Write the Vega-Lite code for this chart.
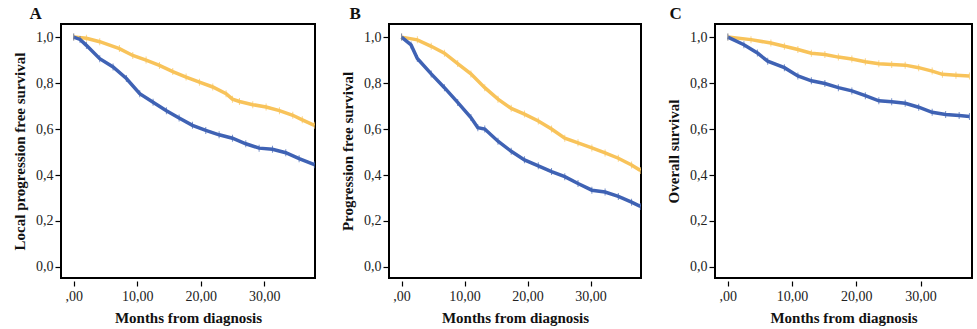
{
  "$schema": "https://vega.github.io/schema/vega-lite/v6.json",
  "background": "white",
  "padding": {"left": 11, "top": 4, "right": 5, "bottom": 5},
  "config": {
    "font": "Liberation Serif",
    "view": {"stroke": "black", "strokeWidth": 2},
    "axis": {"grid": false, "domain": false, "tickColor": "black", "tickSize": 5, "tickWidth": 1.2, "labelFontSize": 14, "labelColor": "#222", "titleFontSize": 15, "titleFontWeight": "bold", "titleColor": "#111", "labelFont": "Liberation Serif", "titleFont": "Liberation Serif"},
    "title": {"font": "Liberation Serif", "fontSize": 17, "fontWeight": "bold", "anchor": "start", "frame": "bounds", "color": "#111"}
  },
  "datasets": {
    "km": [
      {"panel": "A", "group": "yellow", "month": 0, "surv": 1.0},
      {"panel": "A", "group": "yellow", "month": 2, "surv": 0.995},
      {"panel": "A", "group": "yellow", "month": 4.1, "surv": 0.98},
      {"panel": "A", "group": "yellow", "month": 7.2, "surv": 0.95},
      {"panel": "A", "group": "yellow", "month": 9.3, "surv": 0.92},
      {"panel": "A", "group": "yellow", "month": 11.4, "surv": 0.9},
      {"panel": "A", "group": "yellow", "month": 13.5, "surv": 0.877},
      {"panel": "A", "group": "yellow", "month": 15.6, "surv": 0.85},
      {"panel": "A", "group": "yellow", "month": 17.7, "surv": 0.826},
      {"panel": "A", "group": "yellow", "month": 19.8, "surv": 0.804},
      {"panel": "A", "group": "yellow", "month": 21.9, "surv": 0.783},
      {"panel": "A", "group": "yellow", "month": 24.0, "surv": 0.754},
      {"panel": "A", "group": "yellow", "month": 25.0, "surv": 0.73},
      {"panel": "A", "group": "yellow", "month": 26.1, "surv": 0.72},
      {"panel": "A", "group": "yellow", "month": 28.2, "surv": 0.706},
      {"panel": "A", "group": "yellow", "month": 30.3, "surv": 0.696},
      {"panel": "A", "group": "yellow", "month": 32.4, "surv": 0.68},
      {"panel": "A", "group": "yellow", "month": 34.5, "surv": 0.66},
      {"panel": "A", "group": "yellow", "month": 36.0, "surv": 0.64},
      {"panel": "A", "group": "yellow", "month": 37.9, "surv": 0.616},
      {"panel": "A", "group": "blue", "month": 0, "surv": 1.0},
      {"panel": "A", "group": "blue", "month": 1, "surv": 0.99},
      {"panel": "A", "group": "blue", "month": 2.0, "surv": 0.964},
      {"panel": "A", "group": "blue", "month": 4.1, "surv": 0.906},
      {"panel": "A", "group": "blue", "month": 6.2, "surv": 0.87},
      {"panel": "A", "group": "blue", "month": 8.3, "surv": 0.82},
      {"panel": "A", "group": "blue", "month": 10.4, "surv": 0.754},
      {"panel": "A", "group": "blue", "month": 12.5, "surv": 0.717},
      {"panel": "A", "group": "blue", "month": 14.6, "surv": 0.68},
      {"panel": "A", "group": "blue", "month": 16.6, "surv": 0.648},
      {"panel": "A", "group": "blue", "month": 18.7, "surv": 0.616},
      {"panel": "A", "group": "blue", "month": 20.8, "surv": 0.594},
      {"panel": "A", "group": "blue", "month": 22.9, "surv": 0.575},
      {"panel": "A", "group": "blue", "month": 25.0, "surv": 0.56},
      {"panel": "A", "group": "blue", "month": 27.1, "surv": 0.536},
      {"panel": "A", "group": "blue", "month": 29.2, "surv": 0.517},
      {"panel": "A", "group": "blue", "month": 31.3, "surv": 0.512},
      {"panel": "A", "group": "blue", "month": 33.4, "surv": 0.497},
      {"panel": "A", "group": "blue", "month": 35.5, "surv": 0.471},
      {"panel": "A", "group": "blue", "month": 37.9, "surv": 0.445},
      {"panel": "B", "group": "yellow", "month": 0, "surv": 1.0},
      {"panel": "B", "group": "yellow", "month": 2.5, "surv": 0.988},
      {"panel": "B", "group": "yellow", "month": 4.7, "surv": 0.96},
      {"panel": "B", "group": "yellow", "month": 6.8, "surv": 0.93},
      {"panel": "B", "group": "yellow", "month": 8.9, "surv": 0.885},
      {"panel": "B", "group": "yellow", "month": 11.0, "surv": 0.84},
      {"panel": "B", "group": "yellow", "month": 13.2, "surv": 0.78},
      {"panel": "B", "group": "yellow", "month": 15.3, "surv": 0.73},
      {"panel": "B", "group": "yellow", "month": 17.4, "surv": 0.69},
      {"panel": "B", "group": "yellow", "month": 19.5, "surv": 0.665},
      {"panel": "B", "group": "yellow", "month": 21.7, "surv": 0.635},
      {"panel": "B", "group": "yellow", "month": 23.8, "surv": 0.6},
      {"panel": "B", "group": "yellow", "month": 25.9, "surv": 0.56},
      {"panel": "B", "group": "yellow", "month": 28.0, "surv": 0.54},
      {"panel": "B", "group": "yellow", "month": 30.2, "surv": 0.518},
      {"panel": "B", "group": "yellow", "month": 32.3, "surv": 0.496},
      {"panel": "B", "group": "yellow", "month": 34.4, "surv": 0.473},
      {"panel": "B", "group": "yellow", "month": 36.5, "surv": 0.444},
      {"panel": "B", "group": "yellow", "month": 37.9, "surv": 0.42},
      {"panel": "B", "group": "blue", "month": 0, "surv": 1.0},
      {"panel": "B", "group": "blue", "month": 1.5, "surv": 0.966},
      {"panel": "B", "group": "blue", "month": 2.5, "surv": 0.907},
      {"panel": "B", "group": "blue", "month": 4.7, "surv": 0.84},
      {"panel": "B", "group": "blue", "month": 6.8, "surv": 0.78},
      {"panel": "B", "group": "blue", "month": 8.9, "surv": 0.716},
      {"panel": "B", "group": "blue", "month": 11.0, "surv": 0.65},
      {"panel": "B", "group": "blue", "month": 12.1, "surv": 0.606},
      {"panel": "B", "group": "blue", "month": 13.2, "surv": 0.6},
      {"panel": "B", "group": "blue", "month": 15.3, "surv": 0.547},
      {"panel": "B", "group": "blue", "month": 17.4, "surv": 0.503},
      {"panel": "B", "group": "blue", "month": 19.5, "surv": 0.466},
      {"panel": "B", "group": "blue", "month": 21.7, "surv": 0.44},
      {"panel": "B", "group": "blue", "month": 23.8, "surv": 0.415},
      {"panel": "B", "group": "blue", "month": 25.9, "surv": 0.393},
      {"panel": "B", "group": "blue", "month": 28.0, "surv": 0.363},
      {"panel": "B", "group": "blue", "month": 30.2, "surv": 0.334},
      {"panel": "B", "group": "blue", "month": 32.3, "surv": 0.326},
      {"panel": "B", "group": "blue", "month": 34.4, "surv": 0.307},
      {"panel": "B", "group": "blue", "month": 36.5, "surv": 0.282},
      {"panel": "B", "group": "blue", "month": 37.9, "surv": 0.263},
      {"panel": "C", "group": "yellow", "month": 0, "surv": 1.0},
      {"panel": "C", "group": "yellow", "month": 3.6, "surv": 0.989},
      {"panel": "C", "group": "yellow", "month": 6.7, "surv": 0.974},
      {"panel": "C", "group": "yellow", "month": 8.8, "surv": 0.96},
      {"panel": "C", "group": "yellow", "month": 10.9, "surv": 0.946},
      {"panel": "C", "group": "yellow", "month": 13.0, "surv": 0.93},
      {"panel": "C", "group": "yellow", "month": 15.1, "surv": 0.924},
      {"panel": "C", "group": "yellow", "month": 17.2, "surv": 0.913},
      {"panel": "C", "group": "yellow", "month": 19.3, "surv": 0.905},
      {"panel": "C", "group": "yellow", "month": 21.4, "surv": 0.893},
      {"panel": "C", "group": "yellow", "month": 23.5, "surv": 0.884},
      {"panel": "C", "group": "yellow", "month": 25.5, "surv": 0.881},
      {"panel": "C", "group": "yellow", "month": 27.6, "surv": 0.878},
      {"panel": "C", "group": "yellow", "month": 29.7, "surv": 0.867},
      {"panel": "C", "group": "yellow", "month": 31.8, "surv": 0.852},
      {"panel": "C", "group": "yellow", "month": 33.4, "surv": 0.838},
      {"panel": "C", "group": "yellow", "month": 35.5, "surv": 0.834},
      {"panel": "C", "group": "yellow", "month": 37.6, "surv": 0.831},
      {"panel": "C", "group": "blue", "month": 0, "surv": 1.0},
      {"panel": "C", "group": "blue", "month": 2.5, "surv": 0.967},
      {"panel": "C", "group": "blue", "month": 4.6, "surv": 0.931},
      {"panel": "C", "group": "blue", "month": 6.2, "surv": 0.895},
      {"panel": "C", "group": "blue", "month": 8.8, "surv": 0.867},
      {"panel": "C", "group": "blue", "month": 10.9, "surv": 0.831},
      {"panel": "C", "group": "blue", "month": 13.0, "surv": 0.81},
      {"panel": "C", "group": "blue", "month": 15.1, "surv": 0.798},
      {"panel": "C", "group": "blue", "month": 17.2, "surv": 0.78},
      {"panel": "C", "group": "blue", "month": 19.3, "surv": 0.766},
      {"panel": "C", "group": "blue", "month": 21.4, "surv": 0.745},
      {"panel": "C", "group": "blue", "month": 23.5, "surv": 0.723},
      {"panel": "C", "group": "blue", "month": 25.5, "surv": 0.719},
      {"panel": "C", "group": "blue", "month": 27.6, "surv": 0.712},
      {"panel": "C", "group": "blue", "month": 29.7, "surv": 0.695},
      {"panel": "C", "group": "blue", "month": 31.8, "surv": 0.673},
      {"panel": "C", "group": "blue", "month": 33.9, "surv": 0.663},
      {"panel": "C", "group": "blue", "month": 36.0, "surv": 0.659},
      {"panel": "C", "group": "blue", "month": 37.6, "surv": 0.655}
    ]
  },
  "spacing": 23,
  "hconcat": [
    {
      "width": 254, "height": 254,
      "title": {"text": "A", "dx": 17, "offset": 1},
      "data": {"name": "km"},
      "transform": [{"filter": "datum.panel == 'A'"}],
      "encoding": {
        "x": {"field": "month", "type": "quantitative", "scale": {"domain": [-2, 38], "nice": false, "zero": false}, "axis": {"title": "Months from diagnosis", "values": [0, 10, 20, 30], "offset": 3, "labelExpr": "datum.value == 0 ? ',00' : datum.value + ',00'", "labelPadding": 3, "titlePadding": 7}},
        "y": {"field": "surv", "type": "quantitative", "scale": {"domain": [-0.048, 1.057], "nice": false, "zero": false}, "axis": {"title": "Local progression free survival", "values": [0, 0.2, 0.4, 0.6, 0.8, 1.0], "offset": 1, "labelExpr": "replace(format(datum.value, '.1f'), '.', ',')", "labelPadding": 2, "titlePadding": 8}},
        "color": {"field": "group", "type": "nominal", "scale": {"domain": ["yellow", "blue"], "range": ["#f8c35a", "#3f62b4"]}, "legend": null}
      },
      "layer": [
        {"mark": {"type": "line", "strokeWidth": 3.5, "clip": true}},
        {"mark": {"type": "tick", "orient": "vertical", "size": 7, "thickness": 1, "clip": true}}
      ]
    },
    {
      "width": 252, "height": 254,
      "title": {"text": "B", "dx": 9, "offset": 1},
      "data": {"name": "km"},
      "transform": [{"filter": "datum.panel == 'B'"}],
      "encoding": {
        "x": {"field": "month", "type": "quantitative", "scale": {"domain": [-2, 38], "nice": false, "zero": false}, "axis": {"title": "Months from diagnosis", "values": [0, 10, 20, 30], "offset": 3, "labelExpr": "datum.value == 0 ? ',00' : datum.value + ',00'", "labelPadding": 3, "titlePadding": 7}},
        "y": {"field": "surv", "type": "quantitative", "scale": {"domain": [-0.048, 1.057], "nice": false, "zero": false}, "axis": {"title": "Progression free survival", "values": [0, 0.2, 0.4, 0.6, 0.8, 1.0], "offset": 1, "labelExpr": "replace(format(datum.value, '.1f'), '.', ',')", "labelPadding": 2, "titlePadding": 8}},
        "color": {"field": "group", "type": "nominal", "scale": {"domain": ["yellow", "blue"], "range": ["#f8c35a", "#3f62b4"]}, "legend": null}
      },
      "layer": [
        {"mark": {"type": "line", "strokeWidth": 3.5, "clip": true}},
        {"mark": {"type": "tick", "orient": "vertical", "size": 7, "thickness": 1, "clip": true}}
      ]
    },
    {
      "width": 257, "height": 254,
      "title": {"text": "C", "dx": 3, "offset": 1},
      "data": {"name": "km"},
      "transform": [{"filter": "datum.panel == 'C'"}],
      "encoding": {
        "x": {"field": "month", "type": "quantitative", "scale": {"domain": [-2, 38], "nice": false, "zero": false}, "axis": {"title": "Months from diagnosis", "values": [0, 10, 20, 30], "offset": 3, "labelExpr": "datum.value == 0 ? ',00' : datum.value + ',00'", "labelPadding": 3, "titlePadding": 7}},
        "y": {"field": "surv", "type": "quantitative", "scale": {"domain": [-0.048, 1.057], "nice": false, "zero": false}, "axis": {"title": "Overall survival", "values": [0, 0.2, 0.4, 0.6, 0.8, 1.0], "offset": 1, "labelExpr": "replace(format(datum.value, '.1f'), '.', ',')", "labelPadding": 2, "titlePadding": 8}},
        "color": {"field": "group", "type": "nominal", "scale": {"domain": ["yellow", "blue"], "range": ["#f8c35a", "#3f62b4"]}, "legend": null}
      },
      "layer": [
        {"mark": {"type": "line", "strokeWidth": 3.5, "clip": true}},
        {"mark": {"type": "tick", "orient": "vertical", "size": 7, "thickness": 1, "clip": true}}
      ]
    }
  ]
}
